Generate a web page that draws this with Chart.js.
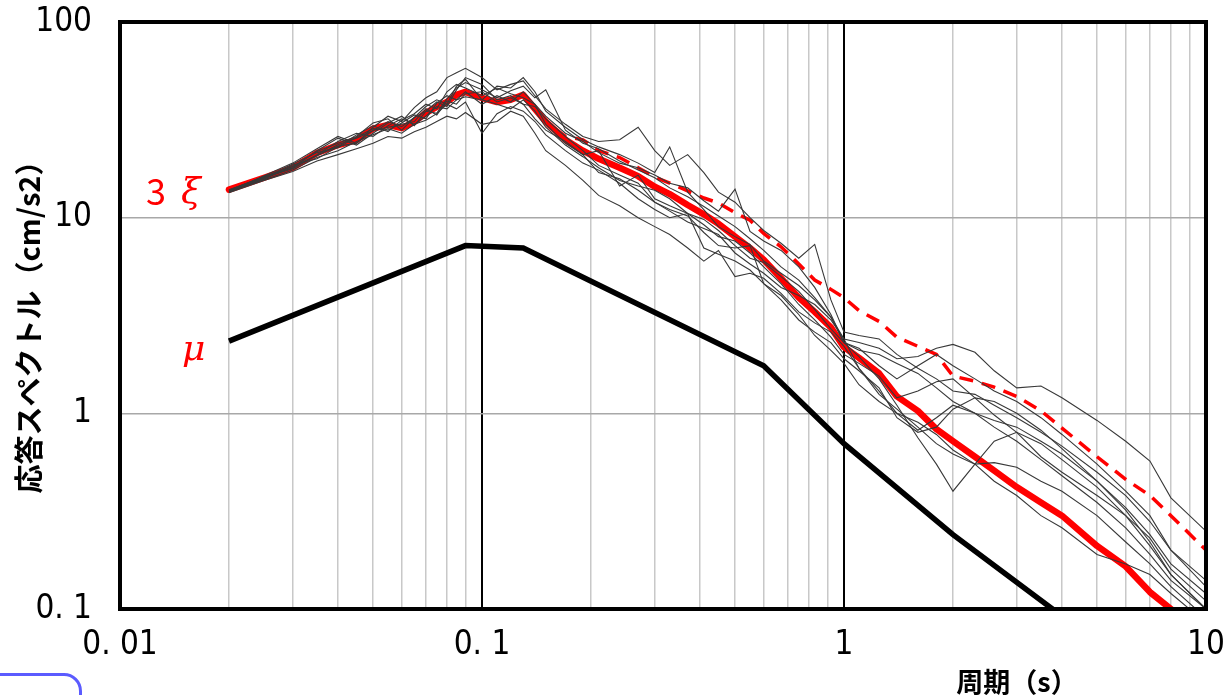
<!DOCTYPE html>
<html>
<head>
<meta charset="utf-8">
<script src="https://cdn.jsdelivr.net/npm/chart.js@4.4.1/dist/chart.umd.min.js"></script>
<style>
  body { margin: 0; background: #fff; }
  #wrap { position: relative; width: 1224px; height: 695px; overflow: hidden; }
  #tab { position: absolute; left: -30px; top: 673px; width: 112px; height: 60px;
         border: 3px solid #5b5bff; border-radius: 18px; box-sizing: border-box; }
</style>
</head>
<body>
<div id="wrap">
  <canvas id="chart"></canvas>
  <div id="tab"></div>
</div>
<script>
// periods (s) shared by every spectrum
const periods = [0.02,0.025,0.03,0.035,0.04,0.045,0.05,0.055,0.06,0.065,0.07,0.075,0.08,0.085,0.09,
  0.1,0.11,0.12,0.13,0.14,0.15,0.17,0.19,0.21,0.24,0.27,0.3,0.33,0.37,0.41,0.45,0.5,0.55,0.6,0.67,
  0.75,0.83,0.92,1.0,1.1,1.25,1.4,1.6,1.8,2.0,2.3,2.6,3.0,3.5,4.0,5.0,6.0,7.0,8.0,10];

// 3ξ (thick red)
const xi3 = [13.9,16.0,18.0,21.4,23.5,24.9,28.5,29.8,28.7,30.9,34.3,36.8,39.0,42.4,43.9,
  40.9,39.0,40.0,42.5,36,31,25,22,20,18,16.3,14.4,13.2,11.6,10.4,9.3,8.0,7.0,6.1,4.9,
  3.9,3.3,2.75,2.18,1.92,1.6,1.22,1.03,0.83,0.72,0.6,0.51,0.42,0.35,0.30,0.21,0.165,0.122,0.10,0.072];

// dashed red
const xiDash = [13.9,16.0,18.0,21.4,23.5,24.9,28.5,29.8,28.7,30.9,34.3,36.8,39.0,42.4,43.9,
  40.9,39.0,40.0,42.5,36,31,26,25,22,20.3,18,16.1,15.0,13.7,12.6,11.9,10.6,9.7,8.3,7.1,
  5.8,4.8,4.3,3.9,3.35,2.95,2.45,2.2,2.0,1.55,1.46,1.36,1.22,1.03,0.84,0.6,0.46,0.38,0.3,0.20];

// μ (thick black)
const muPeriods = [0.02,0.09,0.13,0.6,1.0,2.0,4.0];
const muValues = [2.34,7.2,7.0,1.75,0.70,0.24,0.092];

// individual records (thin)
const rec1 = [13.7,15.9,18.3,20.8,23.6,25.5,27.8,31.0,29.2,32.5,35.0,34.2,40.5,46.0,49.0,
  45.0,41.0,44.5,47.0,41.0,45.0,28.0,24.0,22.5,19.5,17.5,16.0,14.2,12.8,11.4,10.2,9.0,7.8,6.8,5.6,
  4.8,3.9,3.1,2.4,2.3,2.15,1.9,1.95,2.15,2.25,2.05,1.65,1.35,1.38,1.2,0.92,0.72,0.57,0.37,0.25];
const rec2 = [13.5,16.4,19.0,22.5,26.0,24.0,29.0,33.0,31.0,36.5,41.0,44.0,52.0,55.0,58.0,
  52.0,45.0,48.0,50.0,42.0,36.0,30.0,26.0,24.5,25.0,29.0,22.0,18.5,21.0,17.0,13.5,12.0,10.0,8.6,7.4,
  6.2,7.3,3.8,2.6,2.5,2.4,2.0,1.7,1.5,1.3,1.25,1.1,0.95,0.8,0.68,0.5,0.38,0.28,0.2,0.13];
const rec3 = [13.4,15.5,17.2,19.5,21.0,22.5,24.0,26.0,25.5,27.5,29.0,31.0,33.0,32.0,34.5,
  30.0,31.0,35.0,33.0,27.0,22.0,18.5,15.5,13.0,11.5,10.0,9.0,8.2,7.0,6.0,6.8,5.0,5.2,4.9,4.1,
  3.3,2.9,2.6,2.2,1.7,1.25,1.05,0.85,0.7,0.62,0.55,0.56,0.53,0.45,0.4,0.3,0.22,0.17,0.13,0.09];
const rec4 = [13.8,16.2,17.8,21.0,24.5,27.0,26.0,29.5,32.0,30.0,33.0,37.0,36.0,40.0,44.0,
  38.0,42.0,39.0,44.0,38.0,30.0,24.0,21.0,22.0,14.5,16.5,12.5,11.5,10.5,9.8,8.6,7.2,6.2,5.9,5.0,
  4.2,3.4,2.7,2.3,1.95,1.5,1.1,0.75,0.55,0.4,0.55,0.72,0.8,0.7,0.58,0.42,0.3,0.21,0.15,0.1];
const rec5 = [13.6,16.0,18.8,21.5,22.8,25.8,28.5,28.0,30.5,33.5,32.0,38.5,42.0,40.0,41.5,
  40.0,38.0,36.0,40.0,35.0,29.0,23.5,20.5,18.0,15.5,14.5,13.8,12.5,10.5,9.2,8.0,7.6,6.6,5.6,4.6,
  3.6,3.0,2.45,2.0,1.8,1.55,1.2,1.3,1.45,1.5,1.2,0.98,0.8,0.6,0.5,0.38,0.3,0.23,0.16,0.11];
const rec6 = [13.9,16.1,18.0,22.0,25.5,23.5,27.0,30.5,33.0,29.5,35.0,39.0,37.0,45.0,52.0,
  48.0,40.0,42.0,38.0,37.0,32.0,26.0,22.0,18.5,16.5,15.0,12.0,10.8,9.5,8.8,8.2,6.6,5.8,5.2,4.4,
  4.0,3.6,3.0,2.4,1.7,1.3,1.0,0.82,0.95,1.1,1.0,0.85,0.72,0.58,0.48,0.35,0.26,0.19,0.14,0.1];
const rec7 = [13.5,15.7,18.6,20.0,23.0,26.5,29.5,27.5,31.5,34.0,38.0,36.0,44.0,48.0,46.0,
  42.0,46.0,43.0,41.0,38.0,33.0,27.0,24.5,21.5,19.0,18.0,16.5,15.0,14.2,12.2,10.8,14.0,8.5,7.6,6.8,
  5.6,4.4,3.2,2.3,2.1,2.0,1.8,1.6,1.35,1.15,1.0,0.92,0.85,0.72,0.62,0.45,0.33,0.24,0.17,0.12];
const rec8 = [13.7,15.6,17.5,20.3,22.0,24.5,26.5,28.5,27.0,30.0,31.5,34.0,38.0,36.0,39.0,
  27.0,34.0,37.0,35.0,31.0,26.5,22.0,19.0,17.5,15.0,12.5,11.0,10.0,10.5,7.0,6.5,6.0,5.4,4.6,3.8,
  3.0,2.6,2.3,1.9,1.65,1.35,0.95,0.8,0.85,1.05,1.2,1.15,1.0,0.82,0.66,0.45,0.32,0.22,0.15,0.1];
const rec9 = [13.6,15.9,17.9,20.8,23.2,24.0,28.0,29.0,30.0,31.0,36.0,33.5,39.5,38.0,43.0,
  44.0,39.0,41.0,38.0,32.0,28.0,24.5,21.0,17.0,15.8,13.8,12.0,11.0,10.2,8.4,7.2,7.0,7.2,4.6,4.0,
  3.2,2.5,2.1,1.8,1.4,1.15,1.0,0.9,0.78,0.65,0.55,0.45,0.38,0.3,0.26,0.19,0.17,0.15,0.12,0.085];
const rec10 = [13.8,16.3,18.2,21.8,24.0,26.0,30.5,32.0,28.0,32.5,37.0,40.0,38.0,47.0,51.0,
  40.0,47.0,46.0,52.0,44.0,35.0,29.0,25.0,23.0,21.0,19.0,17.0,23.0,13.5,11.0,9.0,8.0,7.3,6.0,5.2,
  4.5,3.8,3.1,2.3,2.15,1.75,1.5,1.75,2.0,1.75,1.5,1.3,1.15,0.95,0.78,0.55,0.4,0.3,0.2,0.14];
const records = [rec1, rec2, rec3, rec4, rec5, rec6, rec7, rec8, rec9, rec10];

// axes
const xGrid = [0.01,0.02,0.03,0.04,0.05,0.06,0.07,0.08,0.09,0.1,0.2,0.3,0.4,0.5,0.6,0.7,0.8,0.9,
  1,2,3,4,5,6,7,8,9,10];
const xMajor = [0.01,0.1,1,10];
const xLabels = ['0. 01','0. 1','1','10'];
const yMajor = [0.1,1,10,100];
const yLabels = ['0. 1','1','10','100'];

const pts = (xs, ys) => xs.map((x, i) => ({ x: x, y: ys[i] }));

const numFont = "'DejaVu Sans Condensed','Liberation Sans Narrow','Liberation Sans',sans-serif";
const jpFont = "'Noto Sans CJK JP',sans-serif";

const datasets = records.map(r => ({
  data: pts(periods, r),
  borderColor: '#383838',
  borderWidth: 1.1,
  pointRadius: 0,
  tension: 0
}));
datasets.push({
  data: pts(periods, xiDash),
  borderColor: '#ff0000',
  borderWidth: 3.5,
  borderDash: [14, 9],
  pointRadius: 0
});
datasets.push({
  data: pts(periods, xi3),
  borderColor: '#ff0000',
  borderWidth: 6.5,
  borderJoinStyle: 'round',
  borderCapStyle: 'round',
  pointRadius: 0
});
datasets.push({
  data: pts(muPeriods, muValues),
  borderColor: '#000',
  borderWidth: 5.5,
  pointRadius: 0
});

const frame = {
  id: 'frame',
  afterDraw(chart) {
    const { ctx, chartArea: a, scales } = chart;
    ctx.save();
    ctx.strokeStyle = '#000';
    ctx.lineWidth = 4;
    ctx.strokeRect(a.left, a.top, a.right - a.left, a.bottom - a.top);

    ctx.fillStyle = '#ff0000';
    ctx.textBaseline = 'middle';
    ctx.textAlign = 'left';
    ctx.font = "36px " + jpFont;
    ctx.fillText('3', 146, scales.y.getPixelForValue(xi3[0]) + 2);
    ctx.font = "italic 36px 'DejaVu Serif',serif";
    ctx.fillText('ξ', 181, scales.y.getPixelForValue(xi3[0]) + 4);
    ctx.fillText('μ', 182, scales.y.getPixelForValue(muValues[0]) + 10);

    ctx.fillStyle = '#000';
    ctx.font = "bold 27px " + jpFont;
    ctx.textAlign = 'center';
    ctx.fillText('周期（s）', 1017, 682);

    ctx.translate(29, 320);
    ctx.rotate(-Math.PI / 2);
    ctx.font = "bold 29px " + jpFont;
    ctx.fillText('応答スペクトル（cm/s2）', 0, 0);
    ctx.restore();
  }
};

new Chart(document.getElementById('chart'), {
  type: 'line',
  data: { datasets: datasets },
  plugins: [frame],
  options: {
    responsive: true,
    maintainAspectRatio: false,
    animation: false,
    layout: { padding: { top: 22, right: 18, left: 0, bottom: 0 } },
    plugins: { legend: { display: false }, tooltip: { enabled: false } },
    scales: {
      x: {
        type: 'logarithmic',
        min: 0.01,
        max: 10,
        afterBuildTicks: s => { s.ticks = xGrid.map(v => ({ value: v })); },
        afterFit: s => { s.height = 86; s.paddingLeft = 0; s.paddingRight = 0; },
        border: { display: false },
        grid: {
          drawTicks: false,
          color: c => xMajor.includes(c.tick.value) ? '#000' : '#c8c8c8',
          lineWidth: c => xMajor.includes(c.tick.value) ? 2 : 1.5
        },
        ticks: {
          autoSkip: false,
          maxRotation: 0,
          padding: 17,
          color: '#000',
          font: { family: numFont, size: 33 },
          callback: v => { const i = xMajor.indexOf(v); return i < 0 ? '' : xLabels[i]; }
        }
      },
      y: {
        type: 'logarithmic',
        min: 0.1,
        max: 100,
        afterBuildTicks: s => { s.ticks = yMajor.map(v => ({ value: v })); },
        afterFit: s => { s.width = 120; s.paddingTop = 0; s.paddingBottom = 0; },
        border: { display: false },
        grid: { drawTicks: false, color: '#a8a8a8', lineWidth: 1.5 },
        ticks: {
          padding: 28,
          color: '#000',
          font: { family: numFont, size: 33 },
          callback: v => { const i = yMajor.indexOf(v); return i < 0 ? '' : yLabels[i]; }
        }
      }
    }
  }
});
</script>
</body>
</html>
